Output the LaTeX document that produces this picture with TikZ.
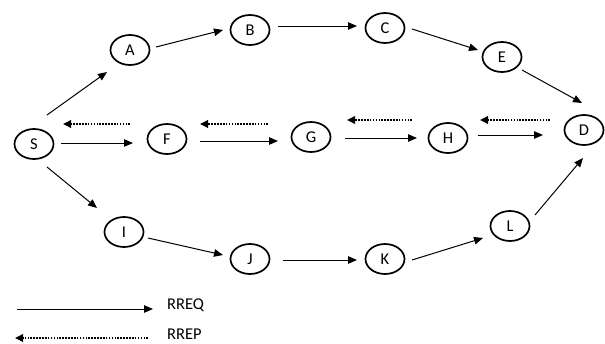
\documentclass[tikz,border=0pt]{standalone}
\usepackage{fontspec}
\setmainfont{Carlito}
\usetikzlibrary{arrows.meta,shapes.geometric}
\tikzset{
  nd/.style={draw, ellipse, line width=1.7pt, minimum width=39pt, minimum height=30pt, inner sep=0pt, font=\fontsize{16.5}{19}\selectfont},
  req/.style={line width=1pt, -{Triangle[length=9pt,width=7.5pt]}},
  rep/.style={line width=1.8pt, dash pattern=on 1.6pt off 1.3pt, -{Triangle[length=8pt,width=7.5pt]}},
  lbl/.style={anchor=west, inner sep=0pt, font=\fontsize{16.5}{19}\selectfont}
}
\begin{document}
\begin{tikzpicture}[x=1pt,y=-1pt]
\useasboundingbox (0,0) rectangle (605,343);
\node[nd] (S) at (34,144) {S};
\node[nd] (A) at (130,50) {A};
\node[nd] (B) at (250,30) {B};
\node[nd] (C) at (385,28) {C};
\node[nd] (E) at (502,57) {E};
\node[nd] (D) at (584,130) {D};
\node[nd] (F) at (167,139) {F};
\node[nd] (G) at (311,137) {G};
\node[nd] (H) at (448,138) {H};
\node[nd] (I) at (124,232) {I};
\node[nd] (J) at (250,259) {J};
\node[nd] (K) at (385,259) {K};
\node[nd] (L) at (510,226) {L};
% RREQ
\draw[req] ([shift={(13,-29)}]S.center) -- ([shift={(-23,22)}]A.center);
\draw[req] ([shift={(13,23)}]S.center) -- ([shift={(-27,-24)}]I.center);
\draw[req] ([shift={(27,-1)}]S.center) -- ([shift={(-34,4)}]F.center);
\draw[req] ([shift={(26,-3)}]A.center) -- ([shift={(-27,0)}]B.center);
\draw[req] ([shift={(28,-4)}]B.center) -- ([shift={(-28,-2)}]C.center);
\draw[req] ([shift={(27,1)}]C.center) -- ([shift={(-24,-7)}]E.center);
\draw[req] ([shift={(20,13)}]E.center) -- ([shift={(-2,-27)}]D.center);
\draw[req] ([shift={(33,2)}]F.center) -- ([shift={(-33,4)}]G.center);
\draw[req] ([shift={(34,1)}]G.center) -- ([shift={(-31,0)}]H.center);
\draw[req] ([shift={(30,-3)}]H.center) -- ([shift={(-41,5)}]D.center);
\draw[req] ([shift={(24,6)}]I.center) -- ([shift={(-27,-4)}]J.center);
\draw[req] ([shift={(33,1)}]J.center) -- ([shift={(-28,1)}]K.center);
\draw[req] ([shift={(27,1)}]K.center) -- ([shift={(-27,12)}]L.center);
\draw[req] ([shift={(25,-11)}]L.center) -- ([shift={(-1,28)}]D.center);
% RREP
\draw[rep] ([shift={(-37,-15)}]F.center) -- ([shift={(29,-20)}]S.center);
\draw[rep] ([shift={(-43,-13)}]G.center) -- ([shift={(33,-15)}]F.center);
\draw[rep] ([shift={(-36,-18)}]H.center) -- ([shift={(36,-17)}]G.center);
\draw[rep] ([shift={(-34,-10)}]D.center) -- ([shift={(32,-18)}]H.center);
% legend
\coordinate (q1) at (17,309);
\coordinate (q2) at (153,309);
\coordinate (p1) at (148,338);
\coordinate (p2) at (15,338);
\draw[req] (q1) -- (q2);
\draw[rep] (p1) -- (p2);
\node[lbl] (tq) at (167,305) {RREQ};
\node[lbl] (tp) at (167,334) {RREP};
\end{tikzpicture}
\end{document}
